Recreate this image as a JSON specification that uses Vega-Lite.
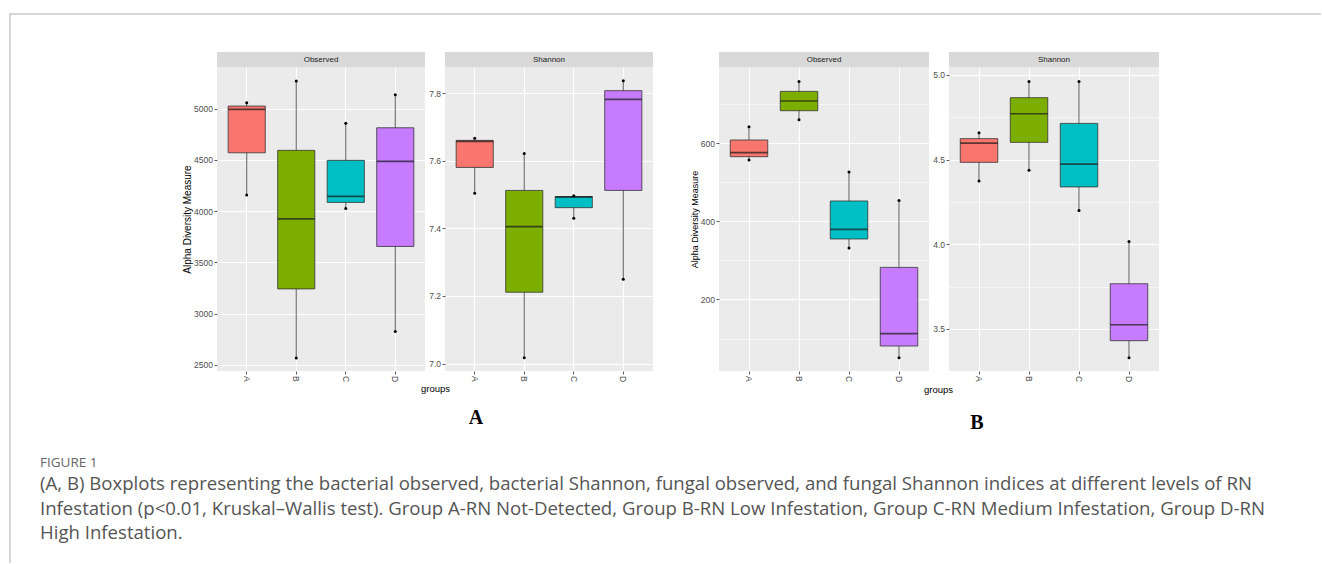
{
  "$schema": "https://vega.github.io/schema/vega-lite/v6.json",
  "background": "#ffffff",
  "padding": {"left": 9, "top": 13, "right": 0, "bottom": 0},
  "config": {
    "font": "Liberation Sans",
    "view": {"stroke": null},
    "axis": {
      "domain": false,
      "tickColor": "#333333",
      "tickSize": 3,
      "tickWidth": 0.8,
      "labelColor": "#4D4D4D",
      "labelFont": "Liberation Sans",
      "labelFontSize": 8.5,
      "labelPadding": 1.5,
      "labelOverlap": false,
      "gridColor": "#FFFFFF",
      "titleFont": "Liberation Sans",
      "titleFontWeight": "normal",
      "titleColor": "#000000"
    },
    "axisX": {"labelAngle": 90, "bandPosition": 0.5, "grid": true, "gridWidth": 1.1},
    "axisY": {"grid": true}
  },
  "datasets": {
    "stats": [
      {"panel": "A-Observed", "group": "A", "min": 4157, "q1": 4570, "median": 4994, "q3": 5026, "max": 5059},
      {"panel": "A-Observed", "group": "B", "min": 2568, "q1": 3242, "median": 3926, "q3": 4594, "max": 5270},
      {"panel": "A-Observed", "group": "C", "min": 4027, "q1": 4086, "median": 4145, "q3": 4496, "max": 4857},
      {"panel": "A-Observed", "group": "D", "min": 2826, "q1": 3656, "median": 4486, "q3": 4814, "max": 5137},
      {"panel": "A-Shannon", "group": "A", "min": 7.504, "q1": 7.58, "median": 7.657, "q3": 7.66, "max": 7.666},
      {"panel": "A-Shannon", "group": "B", "min": 7.017, "q1": 7.211, "median": 7.405, "q3": 7.512, "max": 7.621},
      {"panel": "A-Shannon", "group": "C", "min": 7.43, "q1": 7.461, "median": 7.492, "q3": 7.494, "max": 7.496},
      {"panel": "A-Shannon", "group": "D", "min": 7.249, "q1": 7.512, "median": 7.781, "q3": 7.807, "max": 7.836},
      {"panel": "B-Observed", "group": "A", "min": 556.5, "q1": 565, "median": 575.2, "q3": 607.7, "max": 641.7},
      {"panel": "B-Observed", "group": "B", "min": 659.6, "q1": 682.6, "median": 707.4, "q3": 732, "max": 757.5},
      {"panel": "B-Observed", "group": "C", "min": 331.5, "q1": 354.5, "median": 379, "q3": 451.7, "max": 525.8},
      {"panel": "B-Observed", "group": "D", "min": 50.9, "q1": 80.8, "median": 112.3, "q3": 281.9, "max": 453.2},
      {"panel": "B-Shannon", "group": "A", "min": 4.374, "q1": 4.484, "median": 4.598, "q3": 4.624, "max": 4.659},
      {"panel": "B-Shannon", "group": "B", "min": 4.437, "q1": 4.602, "median": 4.771, "q3": 4.866, "max": 4.962},
      {"panel": "B-Shannon", "group": "C", "min": 4.2, "q1": 4.339, "median": 4.474, "q3": 4.714, "max": 4.962},
      {"panel": "B-Shannon", "group": "D", "min": 3.33, "q1": 3.431, "median": 3.525, "q3": 3.767, "max": 4.017}
    ]
  },
  "hconcat": [
    {"width": 2, "height": 550, "data": {"values": [{}]}, "mark": {"type": "rect", "color": "#d4d4d4"}, "encoding": {}},
    {
      "spacing": 37,
      "vconcat": [
        {"width": 1310, "height": 2, "data": {"values": [{}]}, "mark": {"type": "rect", "color": "#d4d4d4"}, "encoding": {}},
        {
          "spacing": 22,
          "vconcat": [
            {
              "columns": 6,
              "bounds": "flush",
              "spacing": {"row": 0, "column": 20},
              "concat": [
                {"width": 186, "height": 15, "data": {"values": [{}]}, "mark": {"type": "rect", "opacity": 0}, "encoding": {}},
                {"width": 208, "height": 15, "view": {"fill": "#D9D9D9", "stroke": null}, "data": {"values": [{"label": "Observed"}]}, "mark": {"type": "text", "fontSize": 8, "color": "#1A1A1A"}, "encoding": {"text": {"field": "label"}}},
                {"width": 208, "height": 15, "view": {"fill": "#D9D9D9", "stroke": null}, "data": {"values": [{"label": "Shannon"}]}, "mark": {"type": "text", "fontSize": 8, "color": "#1A1A1A"}, "encoding": {"text": {"field": "label"}}},
                {"width": 26, "height": 15, "data": {"values": [{}]}, "mark": {"type": "rect", "opacity": 0}, "encoding": {}},
                {"width": 210, "height": 15, "view": {"fill": "#D9D9D9", "stroke": null}, "data": {"values": [{"label": "Observed"}]}, "mark": {"type": "text", "fontSize": 8, "color": "#1A1A1A"}, "encoding": {"text": {"field": "label"}}},
                {"width": 210, "height": 15, "view": {"fill": "#D9D9D9", "stroke": null}, "data": {"values": [{"label": "Shannon"}]}, "mark": {"type": "text", "fontSize": 8, "color": "#1A1A1A"}, "encoding": {"text": {"field": "label"}}},

                {"width": 186, "height": 1, "data": {"values": [{}]}, "mark": {"type": "rect", "opacity": 0}, "encoding": {}},
                {
                  "width": 208, "height": 304,
                  "view": {"fill": "#EBEBEB", "stroke": null},
                  "data": {"name": "stats"},
                  "transform": [{"filter": "datum.panel === 'A-Observed'"}],
                  "encoding": {
                    "x": {"field": "group", "type": "nominal", "scale": {"type": "band", "domain": ["A", "B", "C", "D"], "paddingInner": 0, "paddingOuter": 0.1}, "axis": {"title": null}}
                  },
                  "layer": [
                    {"mark": {"type": "rule", "color": "#333333", "strokeWidth": 0.8},
                     "encoding": {
                       "y": {"field": "min", "type": "quantitative", "scale": {"domain": [2441, 5407], "nice": false, "zero": false},
                             "axis": {"title": "Alpha Diversity Measure", "titleFontSize": 10, "titlePadding": 1.5,
                                      "values": [2500, 2750, 3000, 3250, 3500, 3750, 4000, 4250, 4500, 4750, 5000, 5250],
                                      "format": "d",
                                      "labelExpr": "datum.value % 500 === 0 ? datum.label : ''",
                                      "tickOpacity": {"condition": {"test": "datum.value % 500 !== 0", "value": 0}, "value": 1},
                                      "gridWidth": {"condition": {"test": "datum.value % 500 !== 0", "value": 0.55}, "value": 1.1}}},
                       "y2": {"field": "max"}}},
                    {"mark": {"type": "bar", "width": {"band": 0.75}, "stroke": "#333333", "strokeWidth": 0.8},
                     "encoding": {
                       "y": {"field": "q1", "type": "quantitative", "scale": {"domain": [2441, 5407], "nice": false, "zero": false}},
                       "y2": {"field": "q3"},
                       "fill": {"field": "group", "type": "nominal", "scale": {"domain": ["A", "B", "C", "D"], "range": ["#F8766D", "#7CAE00", "#00BFC4", "#C77CFF"]}, "legend": null}}},
                    {"mark": {"type": "tick", "thickness": 1.7, "size": 37, "color": "#1A1A1A"},
                     "encoding": {"y": {"field": "median", "type": "quantitative", "scale": {"domain": [2441, 5407], "nice": false, "zero": false}}}},
                    {"transform": [{"fold": ["min", "max"], "as": ["stat", "value"]}],
                     "mark": {"type": "point", "filled": true, "size": 9, "color": "#000000", "opacity": 1},
                     "encoding": {"y": {"field": "value", "type": "quantitative", "scale": {"domain": [2441, 5407], "nice": false, "zero": false}}}}
                  ]
                },
                {
                  "width": 208, "height": 304,
                  "view": {"fill": "#EBEBEB", "stroke": null},
                  "title": {"text": "A", "orient": "bottom", "anchor": "middle", "frame": "group", "dx": -73, "offset": 15, "font": "Liberation Serif", "fontSize": 20, "fontWeight": "bold", "color": "#000000"},
                  "data": {"name": "stats"},
                  "transform": [{"filter": "datum.panel === 'A-Shannon'"}],
                  "encoding": {
                    "x": {"field": "group", "type": "nominal", "scale": {"type": "band", "domain": ["A", "B", "C", "D"], "paddingInner": 0, "paddingOuter": 0.1},
                          "axis": {"title": "groups", "titleFontSize": 9.5, "titleX": -10, "titleY": 20.5, "titleAlign": "center", "titleBaseline": "alphabetic"}}
                  },
                  "layer": [
                    {"mark": {"type": "rule", "color": "#333333", "strokeWidth": 0.8},
                     "encoding": {
                       "y": {"field": "min", "type": "quantitative", "scale": {"domain": [6.978, 7.877], "nice": false, "zero": false},
                             "axis": {"title": null,
                                      "values": [7.0, 7.1, 7.2, 7.3, 7.4, 7.5, 7.6, 7.7, 7.8],
                                      "format": ".1f",
                                      "labelExpr": "round(datum.value * 10) % 2 === 0 ? datum.label : ''",
                                      "tickOpacity": {"condition": {"test": "round(datum.value * 10) % 2 !== 0", "value": 0}, "value": 1},
                                      "gridWidth": {"condition": {"test": "round(datum.value * 10) % 2 !== 0", "value": 0.55}, "value": 1.1}}},
                       "y2": {"field": "max"}}},
                    {"mark": {"type": "bar", "width": {"band": 0.75}, "stroke": "#333333", "strokeWidth": 0.8},
                     "encoding": {
                       "y": {"field": "q1", "type": "quantitative", "scale": {"domain": [6.978, 7.877], "nice": false, "zero": false}},
                       "y2": {"field": "q3"},
                       "fill": {"field": "group", "type": "nominal", "scale": {"domain": ["A", "B", "C", "D"], "range": ["#F8766D", "#7CAE00", "#00BFC4", "#C77CFF"]}, "legend": null}}},
                    {"mark": {"type": "tick", "thickness": 1.7, "size": 37, "color": "#1A1A1A"},
                     "encoding": {"y": {"field": "median", "type": "quantitative", "scale": {"domain": [6.978, 7.877], "nice": false, "zero": false}}}},
                    {"transform": [{"fold": ["min", "max"], "as": ["stat", "value"]}],
                     "mark": {"type": "point", "filled": true, "size": 9, "color": "#000000", "opacity": 1},
                     "encoding": {"y": {"field": "value", "type": "quantitative", "scale": {"domain": [6.978, 7.877], "nice": false, "zero": false}}}}
                  ]
                },
                {"width": 26, "height": 1, "data": {"values": [{}]}, "mark": {"type": "rect", "opacity": 0}, "encoding": {}},
                {
                  "width": 210, "height": 304,
                  "view": {"fill": "#EBEBEB", "stroke": null},
                  "data": {"name": "stats"},
                  "transform": [{"filter": "datum.panel === 'B-Observed'"}],
                  "encoding": {
                    "x": {"field": "group", "type": "nominal", "scale": {"type": "band", "domain": ["A", "B", "C", "D"], "paddingInner": 0, "paddingOuter": 0.1}, "axis": {"title": null}}
                  },
                  "layer": [
                    {"mark": {"type": "rule", "color": "#333333", "strokeWidth": 0.8},
                     "encoding": {
                       "y": {"field": "min", "type": "quantitative", "scale": {"domain": [16.9, 794.4], "nice": false, "zero": false},
                             "axis": {"title": "Alpha Diversity Measure", "titleFontSize": 9, "titlePadding": 1,
                                      "values": [100, 200, 300, 400, 500, 600, 700],
                                      "format": "d",
                                      "labelExpr": "datum.value % 200 === 0 ? datum.label : ''",
                                      "tickOpacity": {"condition": {"test": "datum.value % 200 !== 0", "value": 0}, "value": 1},
                                      "gridWidth": {"condition": {"test": "datum.value % 200 !== 0", "value": 0.55}, "value": 1.1}}},
                       "y2": {"field": "max"}}},
                    {"mark": {"type": "bar", "width": {"band": 0.75}, "stroke": "#333333", "strokeWidth": 0.8},
                     "encoding": {
                       "y": {"field": "q1", "type": "quantitative", "scale": {"domain": [16.9, 794.4], "nice": false, "zero": false}},
                       "y2": {"field": "q3"},
                       "fill": {"field": "group", "type": "nominal", "scale": {"domain": ["A", "B", "C", "D"], "range": ["#F8766D", "#7CAE00", "#00BFC4", "#C77CFF"]}, "legend": null}}},
                    {"mark": {"type": "tick", "thickness": 1.7, "size": 37.5, "color": "#1A1A1A"},
                     "encoding": {"y": {"field": "median", "type": "quantitative", "scale": {"domain": [16.9, 794.4], "nice": false, "zero": false}}}},
                    {"transform": [{"fold": ["min", "max"], "as": ["stat", "value"]}],
                     "mark": {"type": "point", "filled": true, "size": 9, "color": "#000000", "opacity": 1},
                     "encoding": {"y": {"field": "value", "type": "quantitative", "scale": {"domain": [16.9, 794.4], "nice": false, "zero": false}}}}
                  ]
                },
                {
                  "width": 210, "height": 304,
                  "view": {"fill": "#EBEBEB", "stroke": null},
                  "title": {"text": "B", "orient": "bottom", "anchor": "middle", "frame": "group", "dx": -77, "offset": 19, "font": "Liberation Serif", "fontSize": 20, "fontWeight": "bold", "color": "#000000"},
                  "data": {"name": "stats"},
                  "transform": [{"filter": "datum.panel === 'B-Shannon'"}],
                  "encoding": {
                    "x": {"field": "group", "type": "nominal", "scale": {"type": "band", "domain": ["A", "B", "C", "D"], "paddingInner": 0, "paddingOuter": 0.1},
                          "axis": {"title": "groups", "titleFontSize": 9.5, "titleX": -11, "titleY": 21, "titleAlign": "center", "titleBaseline": "alphabetic"}}
                  },
                  "layer": [
                    {"mark": {"type": "rule", "color": "#333333", "strokeWidth": 0.8},
                     "encoding": {
                       "y": {"field": "min", "type": "quantitative", "scale": {"domain": [3.252, 5.047], "nice": false, "zero": false},
                             "axis": {"title": null,
                                      "values": [3.5, 3.75, 4.0, 4.25, 4.5, 4.75, 5.0],
                                      "format": ".1f",
                                      "labelExpr": "round(datum.value * 4) % 2 === 0 ? datum.label : ''",
                                      "tickOpacity": {"condition": {"test": "round(datum.value * 4) % 2 !== 0", "value": 0}, "value": 1},
                                      "gridWidth": {"condition": {"test": "round(datum.value * 4) % 2 !== 0", "value": 0.55}, "value": 1.1}}},
                       "y2": {"field": "max"}}},
                    {"mark": {"type": "bar", "width": {"band": 0.75}, "stroke": "#333333", "strokeWidth": 0.8},
                     "encoding": {
                       "y": {"field": "q1", "type": "quantitative", "scale": {"domain": [3.252, 5.047], "nice": false, "zero": false}},
                       "y2": {"field": "q3"},
                       "fill": {"field": "group", "type": "nominal", "scale": {"domain": ["A", "B", "C", "D"], "range": ["#F8766D", "#7CAE00", "#00BFC4", "#C77CFF"]}, "legend": null}}},
                    {"mark": {"type": "tick", "thickness": 1.7, "size": 37.5, "color": "#1A1A1A"},
                     "encoding": {"y": {"field": "median", "type": "quantitative", "scale": {"domain": [3.252, 5.047], "nice": false, "zero": false}}}},
                    {"transform": [{"fold": ["min", "max"], "as": ["stat", "value"]}],
                     "mark": {"type": "point", "filled": true, "size": 9, "color": "#000000", "opacity": 1},
                     "encoding": {"y": {"field": "value", "type": "quantitative", "scale": {"domain": [3.252, 5.047], "nice": false, "zero": false}}}}
                  ]
                }
              ]
            },
            {
              "width": 1290, "height": 1,
              "data": {"values": [{}]},
              "mark": {"type": "rect", "opacity": 0},
              "encoding": {},
              "title": {
                "text": "FIGURE 1",
                "subtitle": [
                  "(A, B) Boxplots representing the bacterial observed, bacterial Shannon, fungal observed, and fungal Shannon indices at different levels of RN",
                  "Infestation (p<0.01, Kruskal\u2013Wallis test). Group A-RN Not-Detected, Group B-RN Low Infestation, Group C-RN Medium Infestation, Group D-RN",
                  "High Infestation."
                ],
                "orient": "top",
                "anchor": "start",
                "frame": "group",
                "dx": 29,
                "offset": 0,
                "font": "Open Sans",
                "fontSize": 13.5,
                "fontWeight": "normal",
                "color": "#666666",
                "subtitleFont": "Open Sans",
                "subtitleFontSize": 18.6,
                "subtitleColor": "#555555",
                "subtitlePadding": 6,
                "subtitleLineHeight": 24.5
              }
            }
          ]
        }
      ]
    }
  ],
  "spacing": 0
}
